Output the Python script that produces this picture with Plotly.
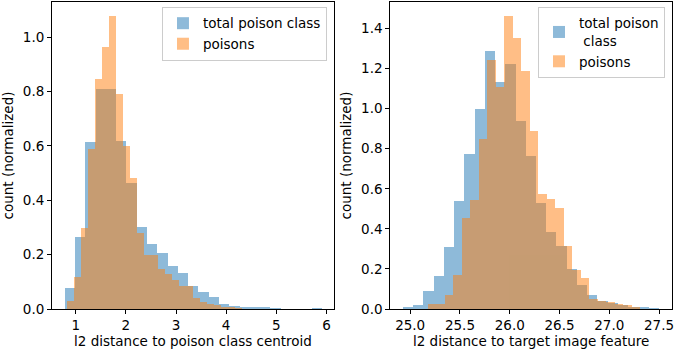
import numpy as np
import plotly.graph_objects as go

# left panel: l2 distance to poison class centroid (25 bins each, density)
left_total_range = (0.78, 5.91)
left_total = [0.078, 0.264, 0.615, 0.81, 0.81, 0.618, 0.465, 0.302, 0.239, 0.206,
              0.158, 0.132, 0.085, 0.063, 0.044, 0.018, 0.011, 0.007, 0.004, 0.004,
              0.001, 0.0, 0.0, 0.0, 0.001]
left_poison_range = (0.82, 4.31)
left_poison = [0.029, 0.119, 0.30, 0.588, 0.846, 0.964, 1.078, 0.79, 0.60, 0.481,
               0.279, 0.198, 0.198, 0.147, 0.129, 0.107, 0.085, 0.085, 0.042, 0.024,
               0.018, 0.013, 0.009, 0.005, 0.002]

# right panel: l2 distance to target image feature
right_total_range = (24.93, 27.50)
right_total = [0.006, 0.022, 0.092, 0.167, 0.311, 0.54, 0.775, 0.999, 1.288, 1.134,
               1.223, 0.939, 0.765, 0.53, 0.386, 0.316, 0.202, 0.122, 0.072, 0.042,
               0.032, 0.02, 0.012, 0.007, 0.002]
right_poison_range = (25.18, 27.315)
right_poison = [0.027, 0.027, 0.072, 0.172, 0.455, 0.546, 0.85, 1.243, 1.109, 1.464,
                1.353, 1.188, 0.889, 0.575, 0.55, 0.505, 0.316, 0.197, 0.157, 0.052,
                0.042, 0.037, 0.027, 0.022, 0.012]

BLUE = '#1f77b4'
ORANGE = '#ff7f0e'
FONT = dict(family='DejaVu Sans', size=13.5, color='black')


def hist_bars(rng, heights, color, name, xa, ya, legend):
    n = len(heights)
    w = (rng[1] - rng[0]) / n
    edges = rng[0] + w * np.arange(n)
    return go.Bar(x=edges, y=heights, width=w, offset=0, name=name,
                  marker=dict(color=color, line=dict(width=0)), opacity=0.5,
                  xaxis=xa, yaxis=ya, legend=legend)


fig = go.Figure()
fig.add_trace(hist_bars(left_total_range, left_total, BLUE, 'total poison class', 'x', 'y', 'legend'))
fig.add_trace(hist_bars(left_poison_range, left_poison, ORANGE, 'poisons', 'x', 'y', 'legend'))
fig.add_trace(hist_bars(right_total_range, right_total, BLUE, 'total poison<br> class', 'x2', 'y2', 'legend2'))
fig.add_trace(hist_bars(right_poison_range, right_poison, ORANGE, 'poisons', 'x2', 'y2', 'legend2'))

axis_style = dict(showline=True, linecolor='black', linewidth=1, mirror=True,
                  ticks='outside', ticklen=4, tickcolor='black', showgrid=False,
                  zeroline=False, tickfont=FONT, title_font=FONT)

fig.update_layout(
    width=677, height=352,
    margin=dict(l=52, r=5, t=2, b=43),
    paper_bgcolor='white', plot_bgcolor='white',
    barmode='overlay', bargap=0,
    font=FONT,
    xaxis=dict(domain=[0, 0.4548], range=[0.527, 6.15], tickvals=[1, 2, 3, 4, 5, 6],
               title=dict(text='l2 distance to poison class centroid', standoff=4), **axis_style),
    yaxis=dict(range=[0, 1.13], tickvals=[0, 0.2, 0.4, 0.6, 0.8, 1.0], tickformat='.1f',
               title=dict(text='count (normalized)', standoff=6), **axis_style),
    xaxis2=dict(domain=[0.5456, 1], range=[24.80, 27.63],
                tickvals=[25.0, 25.5, 26.0, 26.5, 27.0, 27.5], tickformat='.1f',
                title=dict(text='l2 distance to target image feature', standoff=4), **axis_style),
    yaxis2=dict(anchor='x2', range=[0, 1.532], tickvals=[0, 0.2, 0.4, 0.6, 0.8, 1.0, 1.2, 1.4],
                tickformat='.1f', title=dict(text='count (normalized)', standoff=6), **axis_style),
    legend=dict(x=0.4435, y=0.984, xanchor='right', yanchor='top',
                bordercolor='#cccccc', borderwidth=1, bgcolor='rgba(255,255,255,0.8)', font=FONT),
    legend2=dict(x=0.9887, y=0.984, xanchor='right', yanchor='top',
                 bordercolor='#cccccc', borderwidth=1, bgcolor='rgba(255,255,255,0.8)', font=FONT),
)

# the page body has a default 8px margin; remove it so the figure fills the window
fig.write_html('out.html', config={'displayModeBar': False},
               post_script="document.body.style.margin = '0';")
